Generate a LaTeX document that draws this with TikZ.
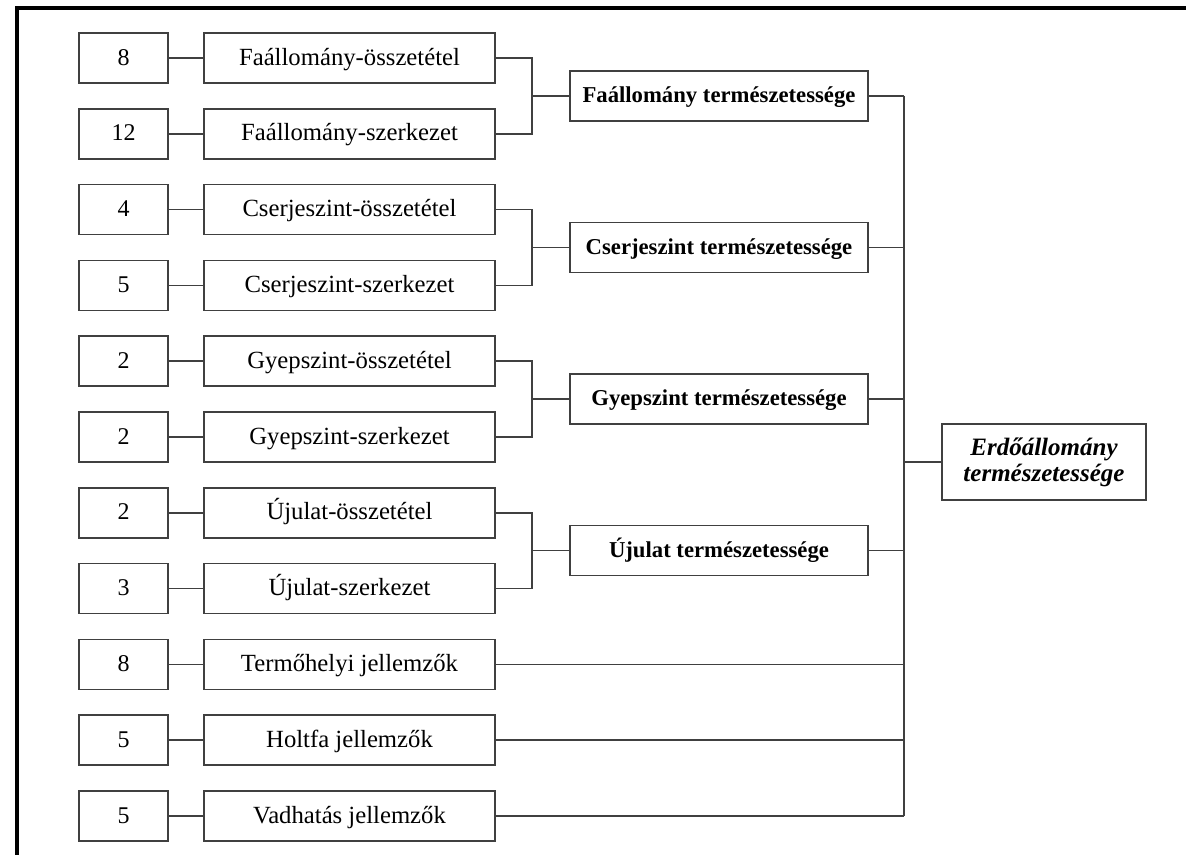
\documentclass[tikz,border=0pt]{standalone}
\usepackage{fontspec}
\setmainfont{Liberation Serif}
\begin{document}
\begin{tikzpicture}[x=1pt,y=-1pt,
  box/.style={draw=black!75, line width=1.5pt, minimum height=50pt, inner sep=0pt, fill=white, text height=19pt, text depth=5pt},
  numbox/.style={box, minimum width=89pt, font=\fontsize{24}{27}\selectfont},
  itembox/.style={box, minimum width=291pt, font=\fontsize{24.7}{27}\selectfont},
  groupbox/.style={box, minimum width=298pt, text height=18pt, font=\fontsize{22.7}{26}\selectfont\bfseries},
  finalbox/.style={draw=black!75, line width=1.5pt, fill=white, inner sep=0pt, minimum width=204pt, minimum height=76pt, align=center, font=\fontsize{25}{26}\selectfont\bfseries\itshape},
  conn/.style={draw=black!75, line width=1.5pt},
  frame/.style={draw=black, line width=4pt}
]
\useasboundingbox (0,0) rectangle (1186,855);
\fill[white] (0,0) rectangle (1186,855);
% frame (top and left only)
\draw[frame] (1186,8) -- (17,8) -- (17,855);

\coordinate (bx) at (532,0);
\coordinate (vx) at (904,0);

% rows
\node[numbox] (n1) at (123.5,58) {8};
\node[numbox] (n2) at (123.5,133.8) {12};
\node[numbox] (n3) at (123.5,209.6) {4};
\node[numbox] (n4) at (123.5,285.4) {5};
\node[numbox] (n5) at (123.5,361.2) {2};
\node[numbox] (n6) at (123.5,437) {2};
\node[numbox] (n7) at (123.5,512.8) {2};
\node[numbox] (n8) at (123.5,588.6) {3};
\node[numbox] (n9) at (123.5,664.4) {8};
\node[numbox] (n10) at (123.5,740.2) {5};
\node[numbox] (n11) at (123.5,816) {5};

\node[itembox] (m1) at (349.5,58) {Faállomány-összetétel};
\node[itembox] (m2) at (349.5,133.8) {Faállomány-szerkezet};
\node[itembox] (m3) at (349.5,209.6) {Cserjeszint-összetétel};
\node[itembox] (m4) at (349.5,285.4) {Cserjeszint-szerkezet};
\node[itembox] (m5) at (349.5,361.2) {Gyepszint-összetétel};
\node[itembox] (m6) at (349.5,437) {Gyepszint-szerkezet};
\node[itembox] (m7) at (349.5,512.8) {Újulat-összetétel};
\node[itembox] (m8) at (349.5,588.6) {Újulat-szerkezet};
\node[itembox] (m9) at (349.5,664.4) {Termőhelyi jellemzők};
\node[itembox] (m10) at (349.5,740.2) {Holtfa jellemzők};
\node[itembox] (m11) at (349.5,816) {Vadhatás jellemzők};

\node[groupbox] (g1) at (719,95.9) {Faállomány természetessége};
\node[groupbox] (g2) at (719,247.5) {Cserjeszint természetessége};
\node[groupbox] (g3) at (719,399.1) {Gyepszint természetessége};
\node[groupbox] (g4) at (719,550.7) {Újulat természetessége};

\node[finalbox] (F) at (1044,462) {Erdőállomány\\természetessége};

% number to item connectors
\foreach \i in {1,...,11} {\draw[conn] (n\i) -- (m\i);}

% brackets
\foreach \a/\b/\g in {1/2/1,3/4/2,5/6/3,7/8/4} {
  \draw[conn] (m\a.east) -- (m\a.east -| bx) -- (m\b.east -| bx) -- (m\b.east);
  \draw[conn] (g\g.west -| bx) -- (g\g.west);
  \draw[conn] (g\g.east) -- (g\g.east -| vx);
}

% main collector
\draw[conn] (g1.east -| vx) -- (m11.east -| vx);
\foreach \i in {9,10,11} {\draw[conn] (m\i.east) -- (m\i.east -| vx);}
\draw[conn] (F.west -| vx) -- (F.west);
\end{tikzpicture}
\end{document}
